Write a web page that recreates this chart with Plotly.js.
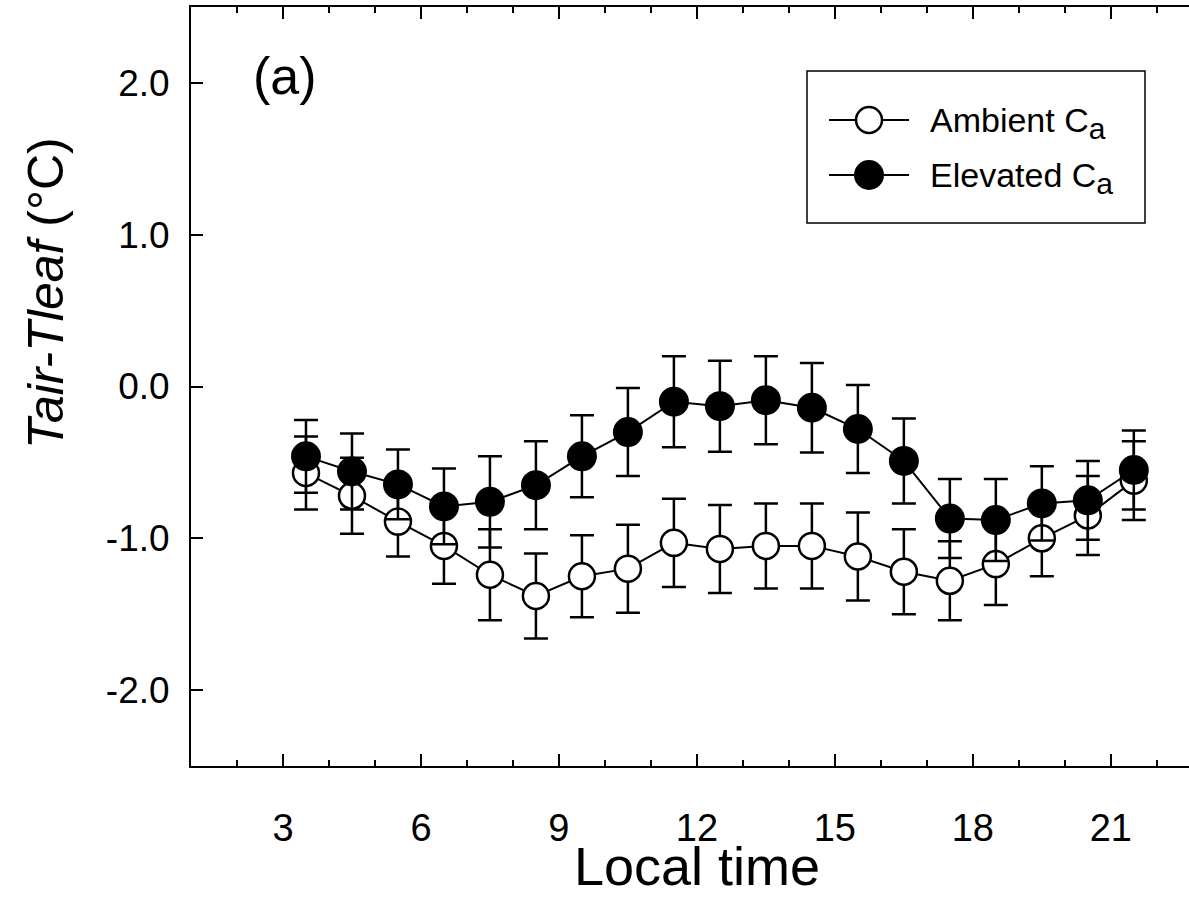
<!DOCTYPE html>
<html>
<head>
<meta charset="utf-8">
<script src="https://cdn.plot.ly/plotly-3.0.1.min.js"></script>
<style>
  html, body { margin: 0; padding: 0; background: #fff; }
  #chart { width: 1189px; height: 902px; }
</style>
</head>
<body>
<div id="chart"></div>
<script>
// Data
const hours = [3.5, 4.5, 5.5, 6.5, 7.5, 8.5, 9.5, 10.5, 11.5, 12.5, 13.5, 14.5, 15.5, 16.5, 17.5, 18.5, 19.5, 20.5, 21.5];
const ambient = [-0.57, -0.72, -0.89, -1.05, -1.24, -1.38, -1.25, -1.20, -1.03, -1.07, -1.05, -1.05, -1.12, -1.22, -1.28, -1.17, -1.00, -0.85, -0.62];
const ambientErr = [0.24, 0.25, 0.23, 0.25, 0.30, 0.28, 0.27, 0.29, 0.29, 0.29, 0.28, 0.28, 0.29, 0.28, 0.26, 0.27, 0.25, 0.26, 0.26];
const elevated = [-0.46, -0.56, -0.645, -0.79, -0.76, -0.65, -0.46, -0.30, -0.10, -0.13, -0.09, -0.14, -0.28, -0.49, -0.87, -0.88, -0.77, -0.75, -0.55];
const elevatedErr = [0.24, 0.25, 0.23, 0.25, 0.30, 0.29, 0.27, 0.29, 0.30, 0.30, 0.29, 0.295, 0.29, 0.28, 0.26, 0.27, 0.245, 0.26, 0.26];

const xTickVals = [3, 6, 9, 12, 15, 18, 21];
const yTickVals = [-2, -1, 0, 1, 2];
const yTickText = ['-2.0', '-1.0', '0.0', '1.0', '2.0'];
const seriesNames = ['Ambient C<sub><span style="font-size:30px">a</span></sub>', 'Elevated C<sub><span style="font-size:30px">a</span></sub>'];
const xTitle = 'Local time';
const yTitle = '<i>Tair-Tleaf</i> (°C)';
const panelLabel = '(a)';

const FONT = '"Liberation Sans", Arial, Helvetica, sans-serif';

const traces = [
  {
    x: hours, y: ambient, name: 'Ambient Ca', type: 'scatter', mode: 'lines+markers',
    line: { color: '#000', width: 2 },
    marker: { symbol: 'circle', size: 26, color: '#fff', line: { color: '#000', width: 2.5 } },
    error_y: { type: 'data', array: ambientErr, visible: true, color: '#000', thickness: 2.5, width: 12 },
    showlegend: false
  },
  {
    x: hours, y: elevated, name: 'Elevated Ca', type: 'scatter', mode: 'lines+markers',
    line: { color: '#000', width: 2 },
    marker: { symbol: 'circle', size: 30, color: '#000', line: { color: '#000', width: 0 } },
    error_y: { type: 'data', array: elevatedErr, visible: true, color: '#000', thickness: 2.5, width: 12 },
    showlegend: false
  }
];

// pixel -> paper helpers for the hand-drawn legend box and labels
const L = 191, R = 1189, T = 7, B = 766;
const px = v => (v - L) / (R - L);
const py = v => (B - v) / (B - T);

const legendRows = [120, 175];
const shapes = [
  { type: 'rect', xref: 'paper', yref: 'paper', x0: px(807), x1: px(1145), y0: py(71), y1: py(223),
    line: { color: '#000', width: 1.5 }, fillcolor: 'rgba(0,0,0,0)' }
];
const annotations = [
  { xref: 'paper', yref: 'paper', x: px(285), y: py(76), text: panelLabel, showarrow: false,
    font: { family: FONT, size: 52, color: '#000' }, xanchor: 'center', yanchor: 'middle' },
  { xref: 'paper', yref: 'paper', x: px(46), y: py(293), text: yTitle, showarrow: false,
    textangle: -90, font: { family: FONT, size: 50, color: '#000' }, xanchor: 'center', yanchor: 'middle' },
  { xref: 'paper', yref: 'paper', x: px(697), y: py(866), text: xTitle, showarrow: false,
    font: { family: FONT, size: 54, color: '#000' }, xanchor: 'center', yanchor: 'middle' }
];
legendRows.forEach((row, i) => {
  shapes.push({ type: 'line', xref: 'paper', yref: 'paper', x0: px(829), x1: px(909), y0: py(row), y1: py(row),
    line: { color: '#000', width: 2 } });
  const r = i === 0 ? 13 : 15;
  shapes.push({ type: 'circle', xref: 'paper', yref: 'paper',
    x0: px(869 - r), x1: px(869 + r), y0: py(row + r), y1: py(row - r),
    fillcolor: i === 0 ? '#fff' : '#000', line: { color: '#000', width: i === 0 ? 2.5 : 0 } });
  annotations.push({ xref: 'paper', yref: 'paper', x: px(928), y: py(row + 3), text: seriesNames[i],
    showarrow: false, xanchor: 'left', yanchor: 'middle', font: { family: FONT, size: 34, color: '#000' } });
});

const layout = {
  width: 1189, height: 902,
  margin: { l: L, r: 1189 - R, t: T, b: 902 - B, pad: 0 },
  paper_bgcolor: '#fff', plot_bgcolor: '#fff',
  font: { family: FONT, color: '#000' },
  showlegend: false,
  xaxis: {
    range: [1, 22.7], tickvals: xTickVals, ticks: 'inside', ticklen: 12, tickwidth: 2, tickcolor: '#000',
    showline: true, linewidth: 2, linecolor: '#000', mirror: 'ticks', showgrid: false, zeroline: false,
    tickfont: { family: FONT, size: 38, color: '#000' }, ticklabelstandoff: 27,
    minor: { dtick: 1, tick0: 0, ticks: 'inside', ticklen: 6, tickwidth: 1.5, tickcolor: '#000', showgrid: false }
  },
  yaxis: {
    range: [-2.5, 2.5], tickvals: yTickVals, ticktext: yTickText, ticks: 'inside', ticklen: 12, tickwidth: 2,
    tickcolor: '#000', showline: true, linewidth: 2, linecolor: '#000', mirror: false, showgrid: false, zeroline: false,
    tickfont: { family: FONT, size: 37, color: '#000' }, ticklabelstandoff: 12
  },
  shapes: shapes,
  annotations: annotations
};

Plotly.newPlot('chart', traces, layout, { staticPlot: true, displayModeBar: false });
</script>
</body>
</html>
